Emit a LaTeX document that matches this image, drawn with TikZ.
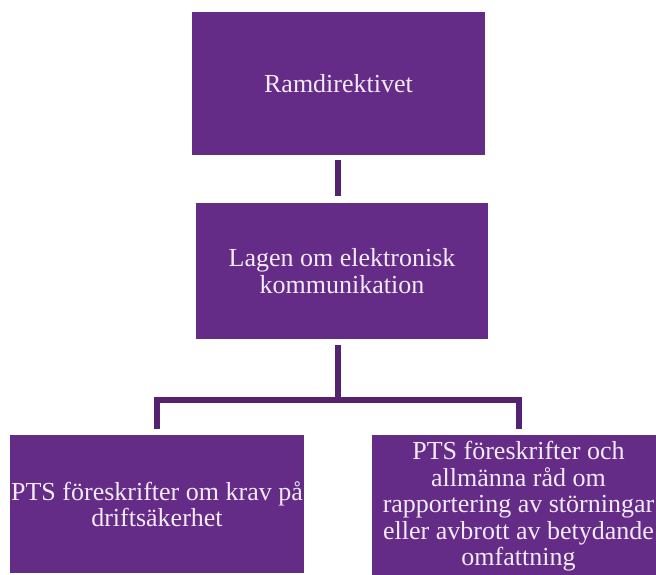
\documentclass[tikz,border=0pt]{standalone}
\usepackage{fontspec}
\setmainfont{Liberation Serif}
\definecolor{boxfill}{HTML}{652C87}
\definecolor{linecol}{HTML}{54226F}
\definecolor{txt}{HTML}{F2EAF6}
\tikzset{
  orgbox/.style={fill=boxfill, draw=none, inner sep=0pt, text=txt, align=center,
    font=\fontsize{26}{26.5}\selectfont},
  conn/.style={draw=linecol, line width=6pt, line join=miter}
}
\begin{document}
\begin{tikzpicture}[x=1pt,y=1pt]
\useasboundingbox (0,0) rectangle (656,-574);
\node[orgbox, minimum width=293pt, minimum height=143pt] (top) at (338.5,-83.5) {Ramdirektivet};
\node[orgbox, minimum width=292pt, minimum height=136pt] (mid) at (342,-271) {Lagen om elektronisk\\kommunikation};
\node[orgbox, minimum width=294pt, minimum height=138pt] (left) at (157,-504) {PTS föreskrifter om krav på\\driftsäkerhet};
\node[orgbox, minimum width=293pt, minimum height=143pt] (right) at (518.5,-506.5) {PTS föreskrifter och\\allmänna råd om\\rapportering av störningar\\eller avbrott av betydande\\omfattning};
\coordinate (j) at (338,-400);
\draw[conn, shorten <=5pt, shorten >=7pt] (338,-155) coordinate (ts) -- (ts |- mid.north);
\draw[conn, shorten <=6pt] (j |- mid.south) -- (j);
\draw[conn, shorten >=6pt] (j) -| (left.north);
\draw[conn, shorten >=6pt] (j) -| (right.north);
\end{tikzpicture}
\end{document}
